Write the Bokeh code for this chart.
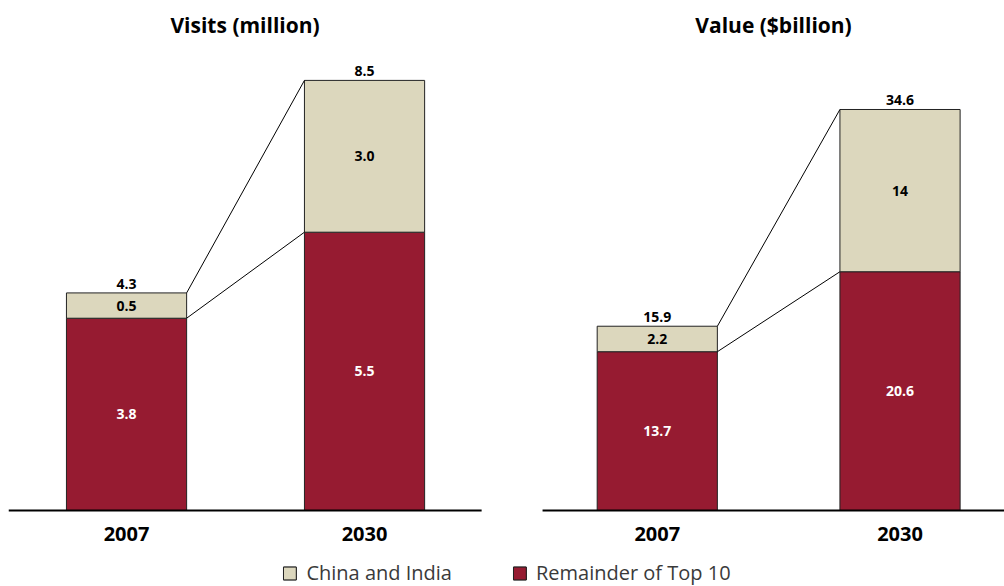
from bokeh.plotting import figure
from bokeh.models import Range1d, Legend, LegendItem
from bokeh.core.properties import value
from bokeh.embed import file_html
from bokeh.resources import INLINE

# ---- data ----
years = ["2007", "2030"]
visits_remainder = [3.8, 5.5]
visits_china_india = [0.5, 3.0]
visits_total = [4.3, 8.5]
value_remainder = [13.7, 20.6]
value_china_india = [2.2, 14]
value_total = [15.9, 34.6]
titles = ["Visits (million)", "Value ($billion)"]
series_names = ["China and India", "Remainder of Top 10"]

RED = "#961B31"
BEIGE = "#DCD7BD"
FONT = "Open Sans"

W, H = 1004, 586
MB = 8                # left / top border
FH = H - MB           # frame height
BASE_PX = 76          # baseline height above bottom of frame
SCALE_L = 50.6        # px per unit, visits panel
SCALE_R = 11.59       # px per unit, value panel

def yrange(scale):
    s = -BASE_PX / scale
    return s, s + FH / scale

yl0, yl1 = yrange(SCALE_L)
yr0, yr1 = yrange(SCALE_R)

p = figure(width=W, height=H, output_backend="svg", toolbar_location=None,
           x_range=Range1d(-0.496, 3.689), y_range=Range1d(yl0, yl1),
           x_axis_location=None, y_axis_location=None, min_border=0)
p.min_border_left = MB
p.min_border_top = MB
p.extra_y_ranges = {"val": Range1d(yr0, yr1)}
p.outline_line_color = None
p.xgrid.visible = False
p.ygrid.visible = False
p.background_fill_color = "white"
p.border_fill_color = "white"

BAR_W = 0.505
groups = [
    dict(xs=[0.0, 1.0], rem=visits_remainder, ci=visits_china_india, tot=visits_total,
         fmt="{:.1f}", yname="default", scale=SCALE_L, span=(-0.496, 1.492), title=titles[0]),
    dict(xs=[2.23, 3.25], rem=value_remainder, ci=value_china_india, tot=value_total,
         fmt="{:g}", yname="val", scale=SCALE_R, span=(1.748, 3.689), title=titles[1]),
]

red_rs, beige_rs = [], []
for g in groups:
    xs, rem, ci, tot = g["xs"], g["rem"], g["ci"], g["tot"]
    kw = {} if g["yname"] == "default" else {"y_range_name": g["yname"]}
    tops_ci = [r + c for r, c in zip(rem, ci)]
    r1 = p.vbar(x=xs, width=BAR_W, bottom=0, top=rem, fill_color=RED,
                line_color="#222222", line_width=1, **kw)
    r2 = p.vbar(x=xs, width=BAR_W, bottom=rem, top=tops_ci, fill_color=BEIGE,
                line_color="#222222", line_width=1, **kw)
    red_rs.append(r1)
    beige_rs.append(r2)
    # connector lines
    p.segment(x0=[xs[0] + BAR_W / 2] * 2, y0=[tot[0], rem[0]],
              x1=[xs[1] - BAR_W / 2] * 2, y1=[tot[1], rem[1]],
              line_color="black", line_width=1, **kw)
    # baseline
    p.segment(x0=[g["span"][0]], y0=[0], x1=[g["span"][1]], y1=[0],
              line_color="black", line_width=2, **kw)
    # labels in segments
    p.text(x=xs, y=[r / 2 for r in rem], text=[g["fmt"].format(v) for v in rem],
           text_color="white", text_font=value(FONT), text_font_style="bold",
           text_font_size="14px", text_align="center", text_baseline="middle", **kw)
    p.text(x=xs, y=[r + c / 2 for r, c in zip(rem, ci)], text=[g["fmt"].format(v) for v in ci],
           text_color="black", text_font=value(FONT), text_font_style="bold",
           text_font_size="14px", text_align="center", text_baseline="middle", **kw)
    # totals
    p.text(x=xs, y=tot, text=[g["fmt"].format(v) for v in tot], y_offset=-4,
           text_color="black", text_font=value(FONT), text_font_style="bold",
           text_font_size="14px", text_align="center", text_baseline="bottom", **kw)
    # category labels
    p.text(x=xs, y=[-23 / g["scale"]] * 2, text=years,
           text_color="black", text_font=value(FONT), text_font_style="bold",
           text_font_size="20px", text_align="center", text_baseline="middle", **kw)
    # panel title
    p.text(x=[(g["span"][0] + g["span"][1]) / 2], y=[486 / g["scale"]], text=[g["title"]],
           text_color="black", text_font=value(FONT), text_font_style="bold",
           text_font_size="21px", text_align="center", text_baseline="middle", **kw)

legend = Legend(items=[LegendItem(label=series_names[0], renderers=beige_rs),
                       LegendItem(label=series_names[1], renderers=red_rs)],
                orientation="horizontal", location="bottom_center",
                border_line_color=None, background_fill_alpha=0,
                margin=0, padding=2, spacing=59, label_standoff=9,
                glyph_width=16, glyph_height=16,
                label_text_font=FONT, label_text_font_size="20px",
                label_text_color="#3a3a3a", label_height=16)
p.add_layout(legend, "center")

open("out.html", "w").write(file_html(p, INLINE))
